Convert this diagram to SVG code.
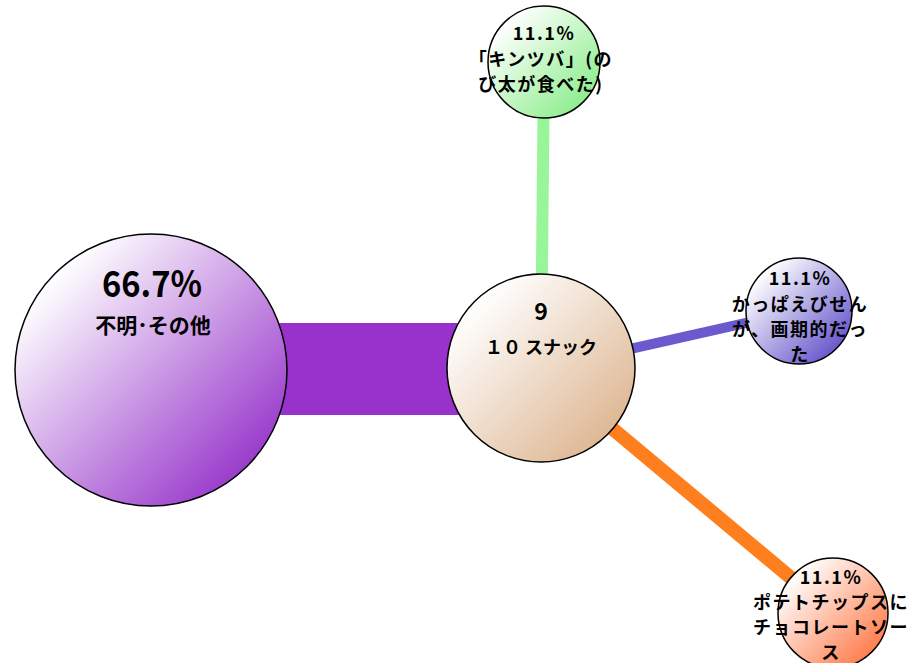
<svg xmlns="http://www.w3.org/2000/svg" width="908" height="663" viewBox="0 0 908 663">
<defs>
<linearGradient id="gPurple" x1="0.15" y1="0.15" x2="0.85" y2="0.85"><stop offset="0" stop-color="#ffffff"/><stop offset="1" stop-color="#9b3dcc"/></linearGradient>
<linearGradient id="gTan" x1="0.15" y1="0.15" x2="0.85" y2="0.85"><stop offset="0" stop-color="#ffffff"/><stop offset="1" stop-color="#deb995"/></linearGradient>
<linearGradient id="gGreen" x1="0.15" y1="0.15" x2="0.85" y2="0.85"><stop offset="0" stop-color="#ffffff"/><stop offset="1" stop-color="#90ee90"/></linearGradient>
<linearGradient id="gBlue" x1="0.15" y1="0.15" x2="0.85" y2="0.85"><stop offset="0" stop-color="#ffffff"/><stop offset="1" stop-color="#6a5acd"/></linearGradient>
<linearGradient id="gOrange" x1="0.15" y1="0.15" x2="0.85" y2="0.85"><stop offset="0" stop-color="#ffffff"/><stop offset="1" stop-color="#ff7f50"/></linearGradient>
</defs>
<style>
.node circle{stroke:#000;stroke-width:1.5}
text{font-family:"Noto Sans CJK JP","Liberation Sans",sans-serif;font-weight:bold;fill:#000;text-anchor:middle}
.s{font-size:18px;letter-spacing:1.5px}
.conn line{fill:none}
</style>
<rect width="908" height="663" fill="#ffffff"/>
<g id="connectors" class="conn">
<line x1="151" y1="369" x2="541" y2="369" stroke="#9932cc" stroke-width="92"/>
<line x1="544" y1="62" x2="541" y2="369" stroke="#99f599" stroke-width="12"/>
<line x1="541" y1="369" x2="799" y2="311" stroke="#6a5acd" stroke-width="10"/>
<line x1="541" y1="369" x2="833" y2="613" stroke="#ff7f1f" stroke-width="14"/>
</g>
<g id="node-other" class="node">
<circle cx="151" cy="370" r="136" fill="url(#gPurple)"/>
<text x="152" y="297" style="font-size:36px" textLength="100" lengthAdjust="spacingAndGlyphs">66.7%</text>
<text x="153" y="333" style="font-size:21px">不明･その他</text>
</g>
<g id="node-center" class="node">
<circle cx="541" cy="368" r="94" fill="url(#gTan)"/>
<text x="541" y="320" style="font-size:23px">9</text>
<text x="541" y="354" style="font-size:18px">１０ スナック</text>
</g>
<g id="node-kintsuba" class="node">
<circle cx="544" cy="62" r="56" fill="url(#gGreen)"/>
<text x="544" y="40" class="s">11.1%</text>
<text x="541" y="66" class="s">「キンツバ」(の</text>
<text x="541" y="91" class="s">び太が食べた)</text>
</g>
<g id="node-kappaebi" class="node">
<circle cx="799" cy="311" r="53" fill="url(#gBlue)"/>
<text x="800" y="285" class="s">11.1%</text>
<text x="800" y="311" class="s">かっぱえびせん</text>
<text x="800" y="336" class="s">が、画期的だっ</text>
<text x="800" y="361" class="s">た</text>
</g>
<g id="node-potato" class="node">
<circle cx="833" cy="613" r="55" fill="url(#gOrange)"/>
<text x="831" y="584" class="s">11.1%</text>
<text x="831" y="609" class="s">ポテトチップスに</text>
<text x="831" y="634" class="s">チョコレートソー</text>
<text x="831" y="659" class="s">ス</text>
</g>
</svg>
